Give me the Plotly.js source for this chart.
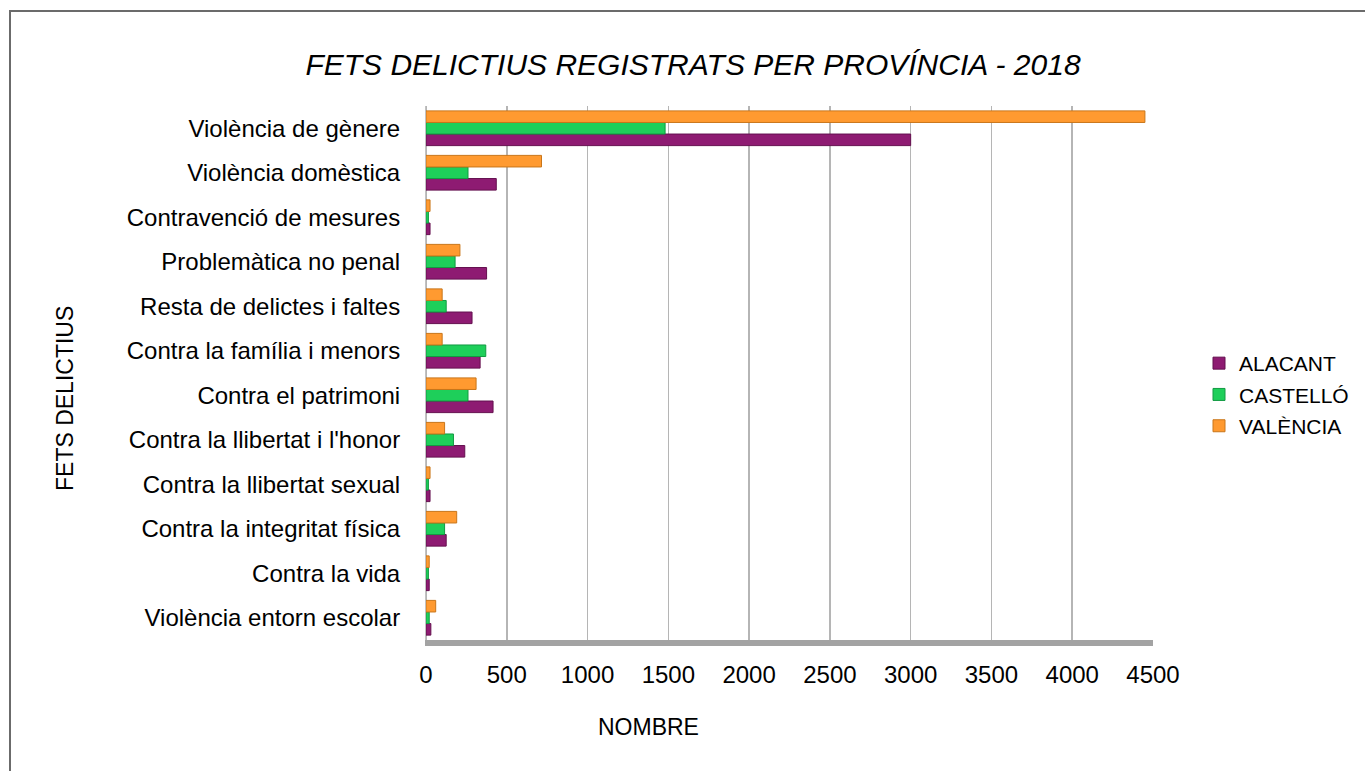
<!DOCTYPE html>
<html>
<head>
<meta charset="utf-8">
<script src="https://cdn.plot.ly/plotly-3.0.1.min.js"></script>
<style>
  html, body { margin: 0; padding: 0; background: #fff; }
  #chart { width: 1365px; height: 771px; position: absolute; left: 0; top: 0; }
  #frame { position: absolute; left: 9px; top: 10px; width: 1356px; height: 761px;
           border-left: 2px solid #6b6b6b; border-top: 2px solid #6b6b6b; pointer-events: none; }
</style>
</head>
<body>
<div id="chart"></div>
<div id="frame"></div>
<script>
// Categories (top to bottom as shown)
const categories = [
  "Violència de gènere",
  "Violència domèstica",
  "Contravenció de mesures",
  "Problemàtica no penal",
  "Resta de delictes i faltes",
  "Contra la família i menors",
  "Contra el patrimoni",
  "Contra la llibertat i l'honor",
  "Contra la llibertat sexual",
  "Contra la integritat física",
  "Contra la vida",
  "Violència entorn escolar"
];
const alacant  = [3000, 435, 25, 375, 285, 335, 415, 240, 25, 125, 20, 30];
const castello = [1480, 260, 15, 180, 125, 370, 260, 170, 15, 115, 15, 20];
const valencia = [4450, 715, 25, 210, 100, 100, 310, 115, 25, 190, 20, 60];
const seriesNames = ["ALACANT", "CASTELLÓ", "VALÈNCIA"];
const xTicks = [0, 500, 1000, 1500, 2000, 2500, 3000, 3500, 4000, 4500];

const fillColors = ["#8e1b72", "#1ecf5a", "#ff9a30"];
const lineColors = ["#64104f", "#129a42", "#c9761a"];
const seriesData = [alacant, castello, valencia];

const traces = seriesData.map((vals, i) => ({
  type: "bar",
  orientation: "h",
  name: seriesNames[i],
  legendgroup: "g" + i,
  y: categories,
  x: vals,
  marker: { color: fillColors[i], line: { color: lineColors[i], width: 1 } },
  hoverinfo: "x+y+name"
}));

const L = 426, R = 1153, T = 106, B = 640;
const W = 1365, H = 771;
const px2x = p => (p - L) / (R - L);
const py2y = p => (B - p) / (B - T);

const layout = {
  width: W, height: H,
  margin: { l: L, r: W - R, t: T, b: H - B, pad: 0, autoexpand: false },
  paper_bgcolor: "#ffffff",
  plot_bgcolor: "#ffffff",
  font: { family: "Liberation Sans, Arial, sans-serif", color: "#000" },
  title: {
    text: "<i>FETS DELICTIUS REGISTRATS PER PROVÍNCIA - 2018</i>",
    font: { size: 30, family: "Liberation Sans, Arial, sans-serif", color: "#000" },
    xref: "container", yref: "container",
    x: 693 / W, y: 1 - 64 / H, xanchor: "center", yanchor: "middle"
  },
  barmode: "group",
  bargap: 0.22,
  bargroupgap: 0,
  showlegend: true,
  legend: {
    x: px2x(1199), y: py2y(343), xanchor: "left", yanchor: "top",
    font: { size: 21, family: "Liberation Sans, Arial, sans-serif" },
    traceorder: "grouped", tracegroupgap: 1,
    bgcolor: "rgba(0,0,0,0)"
  },
  xaxis: {
    range: [0, 4500],
    tickvals: xTicks,
    ticktext: xTicks.map(String),
    showgrid: true,
    gridcolor: "#b5b5b5",
    gridwidth: 1.5,
    zeroline: true,
    zerolinecolor: "#b5b5b5",
    zerolinewidth: 1.5,
    showline: true,
    linecolor: "#a3a3a3",
    linewidth: 6,
    ticks: "",
    ticklabelstandoff: 8,
    tickfont: { size: 24, family: "Liberation Sans, Arial, sans-serif" },
    fixedrange: true
  },
  yaxis: {
    type: "category",
    categoryorder: "array",
    categoryarray: categories.slice().reverse(),
    showgrid: false,
    zeroline: false,
    showline: true,
    linecolor: "#c2c2c2",
    linewidth: 1,
    ticks: "",
    ticklabelstandoff: 20,
    tickfont: { size: 24, family: "Liberation Sans, Arial, sans-serif" },
    fixedrange: true
  },
  annotations: [
    {
      text: "NOMBRE", xref: "paper", yref: "paper",
      x: px2x(648), y: py2y(727), xanchor: "center", yanchor: "middle",
      showarrow: false, font: { size: 23, family: "Liberation Sans, Arial, sans-serif" }
    },
    {
      text: "FETS DELICTIUS", xref: "paper", yref: "paper",
      x: px2x(65), y: py2y(399), xanchor: "center", yanchor: "middle",
      textangle: -90,
      showarrow: false, font: { size: 23, family: "Liberation Sans, Arial, sans-serif" }
    }
  ]
};

Plotly.newPlot("chart", traces, layout, { displayModeBar: false, staticPlot: true });
</script>
</body>
</html>
